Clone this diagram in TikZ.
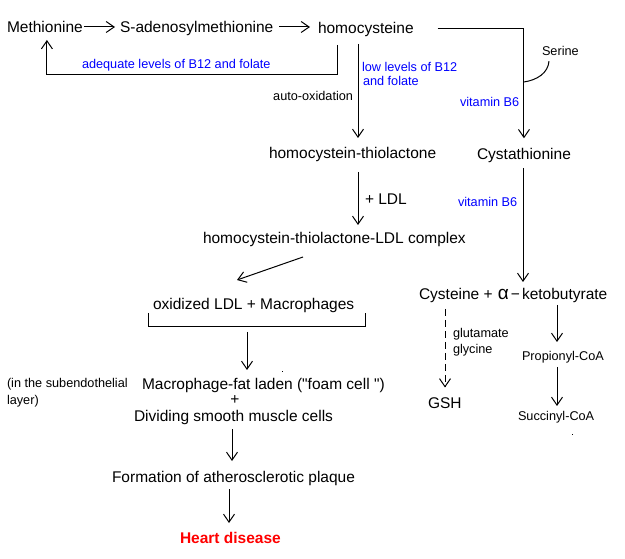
\documentclass[tikz,border=0pt]{standalone}
\usepackage{fontspec}
\setmainfont{Liberation Sans}
\newfontfamily\qfont{Liberation Sans}
\usetikzlibrary{arrows.meta,calc}
\begin{document}
\begin{tikzpicture}[x=1pt,y=-1pt,
  every node/.style={inner sep=0pt,outer sep=0pt},
  big/.style={font=\fontsize{15.5}{18}\selectfont},
  small/.style={font=\fontsize{12.7}{15}\selectfont},
  note/.style={small,text=blue},
  arr/.style={line width=1pt,-{Straight Barb[length=8pt,width=11pt,line width=1pt]}},
  plain/.style={line width=1pt}]
\useasboundingbox (0,0) rectangle (625,559);
\fill[white] (0,0) rectangle (625,559);
% main text nodes
\node[big,anchor=base west] (met) at (7,32.5) {Methionine};
\node[big,anchor=base west] (sam) at (120,32.5) {S-adenosylmethionine};
\node[big,anchor=base west] (hcy) at (318,33.5) {homocysteine};
\node[big,anchor=base west] (thl) at (269,158.3) {homocystein-thiolactone};
\node[big,anchor=base west] (cys) at (477,159.5) {Cystathionine};
\node[big,anchor=base west] (ldl) at (365,205) {+ LDL};
\node[big,anchor=base west] (cx) at (203,244) {homocystein-thiolactone-LDL complex};
\node[big,anchor=base west] (ox) at (153,309.3) {oxidized LDL + Macrophages};
\node[big,anchor=base west] (foam) at (142,389) {Macrophage-fat laden ({\qfont "}foam cell {\qfont "})};
\node[big,anchor=base] (plus) at (235,404) {+};
\node[big,anchor=base west] (smc) at (134,421) {Dividing smooth muscle cells};
\node[big,anchor=base west] (plq) at (112,482.7) {Formation of atherosclerotic plaque};
\node[big,anchor=base west,text=red,font=\fontsize{15.5}{18}\selectfont\bfseries] (hd) at (180,543.3) {Heart disease};
\node[big,anchor=base west] (cyk) at (419,300) {Cysteine + \hspace{1pt}{\fontsize{19}{18}\selectfont α}\hspace{2pt}−\hspace{2pt}ketobutyrate};
\node[big,anchor=base west] (gsh) at (428,408.3) {GSH};
\node[small,anchor=base west] (pro) at (522,360) {Propionyl-CoA};
\node[small,anchor=base west] (suc) at (518,420.7) {Succinyl-CoA};
% labels
\node[note,anchor=base west] (ade) at (82,68.3) {adequate levels of B12 and folate};
\node[note,anchor=base west] (low1) at (362,71.7) {low levels of B12};
\node[note,anchor=base west] (low2) at (363,86) {and folate};
\node[small,anchor=base east] (auto) at (353,100.7) {auto-oxidation};
\node[small,anchor=base west] (ser) at (542,55.7) {Serine};
\node[note,anchor=base west] (vb1) at (460,106.7) {vitamin B6};
\node[note,anchor=base west] (vb2) at (458,206.5) {vitamin B6};
\node[small,anchor=base west] (glu) at (453,337.3) {glutamate};
\node[small,anchor=base west] (gly) at (453,353.3) {glycine};
\node[small,anchor=base west] (sub1) at (7,387.7) {(in the subendothelial};
\node[small,anchor=base west] (sub2) at (7,404) {layer)};
% connectors
\draw[arr] ($(met.base east)+(1,-5.5)$) -- ($(sam.base west)+(-5,-5.5)$);
\draw[arr] ($(sam.base east)+(6,-5.5)$) -- ($(hcy.base west)+(-8,-6.5)$);
\coordinate (hr) at ($(hcy.base east)+(24,-4.5)$);
\coordinate (ct) at ($(cys.north)+(0,-10)$);
\draw[arr] (hr) -| (ct);
\coordinate (sj) at (ct |- 0,82);
\draw[plain] ($(ser.base west)+(7,5.5)$) .. controls +(-1,12) and +(13,-2) .. (sj);
\coordinate (fb) at ($(hcy.base west)+(19,11.5)$);
\coordinate (mb) at ($(met.base)+(2,7.5)$);
\draw[arr] (fb) |- (mb |- 0,75) -- (mb);
\coordinate (h1) at ($(hcy.base west)+(40,10.5)$);
\draw[arr] (h1) -- (h1 |- 0,138);
\coordinate (t1) at (358,172);
\draw[arr] (t1) -- (t1 |- 0,225);
\coordinate (d1) at (303,257);
\coordinate (d2) at (237,280);
\draw[arr] (d1) -- (d2);
\draw[plain] (148,313) -- (148,327) -- (365,327) -- (365,313);
\coordinate (b1) at (247,332);
\draw[arr] (b1) -- (b1 |- 0,370);
\coordinate (s1) at (232,429);
\draw[arr] (s1) -- (s1 |- 0,461);
\coordinate (p1) at (229,489);
\draw[arr] (p1) -- (p1 |- 0,523);
\coordinate (c1) at (523,168);
\draw[arr] (c1) -- (c1 |- 0,282);
\coordinate (g1) at (445,309);
\draw[arr,dash pattern=on 7pt off 4pt] (g1) -- (g1 |- 0,387.5);
\coordinate (k1) at (557,305);
\draw[arr] (k1) -- (k1 |- 0,342);
\coordinate (k2) at (557,367);
\draw[arr] (k2) -- (k2 |- 0,406);
% stray dots
\fill (281.5,371.5) rectangle (282.5,372.5);
\fill (571.5,433.5) rectangle (572.5,434.5);
\end{tikzpicture}
\end{document}
